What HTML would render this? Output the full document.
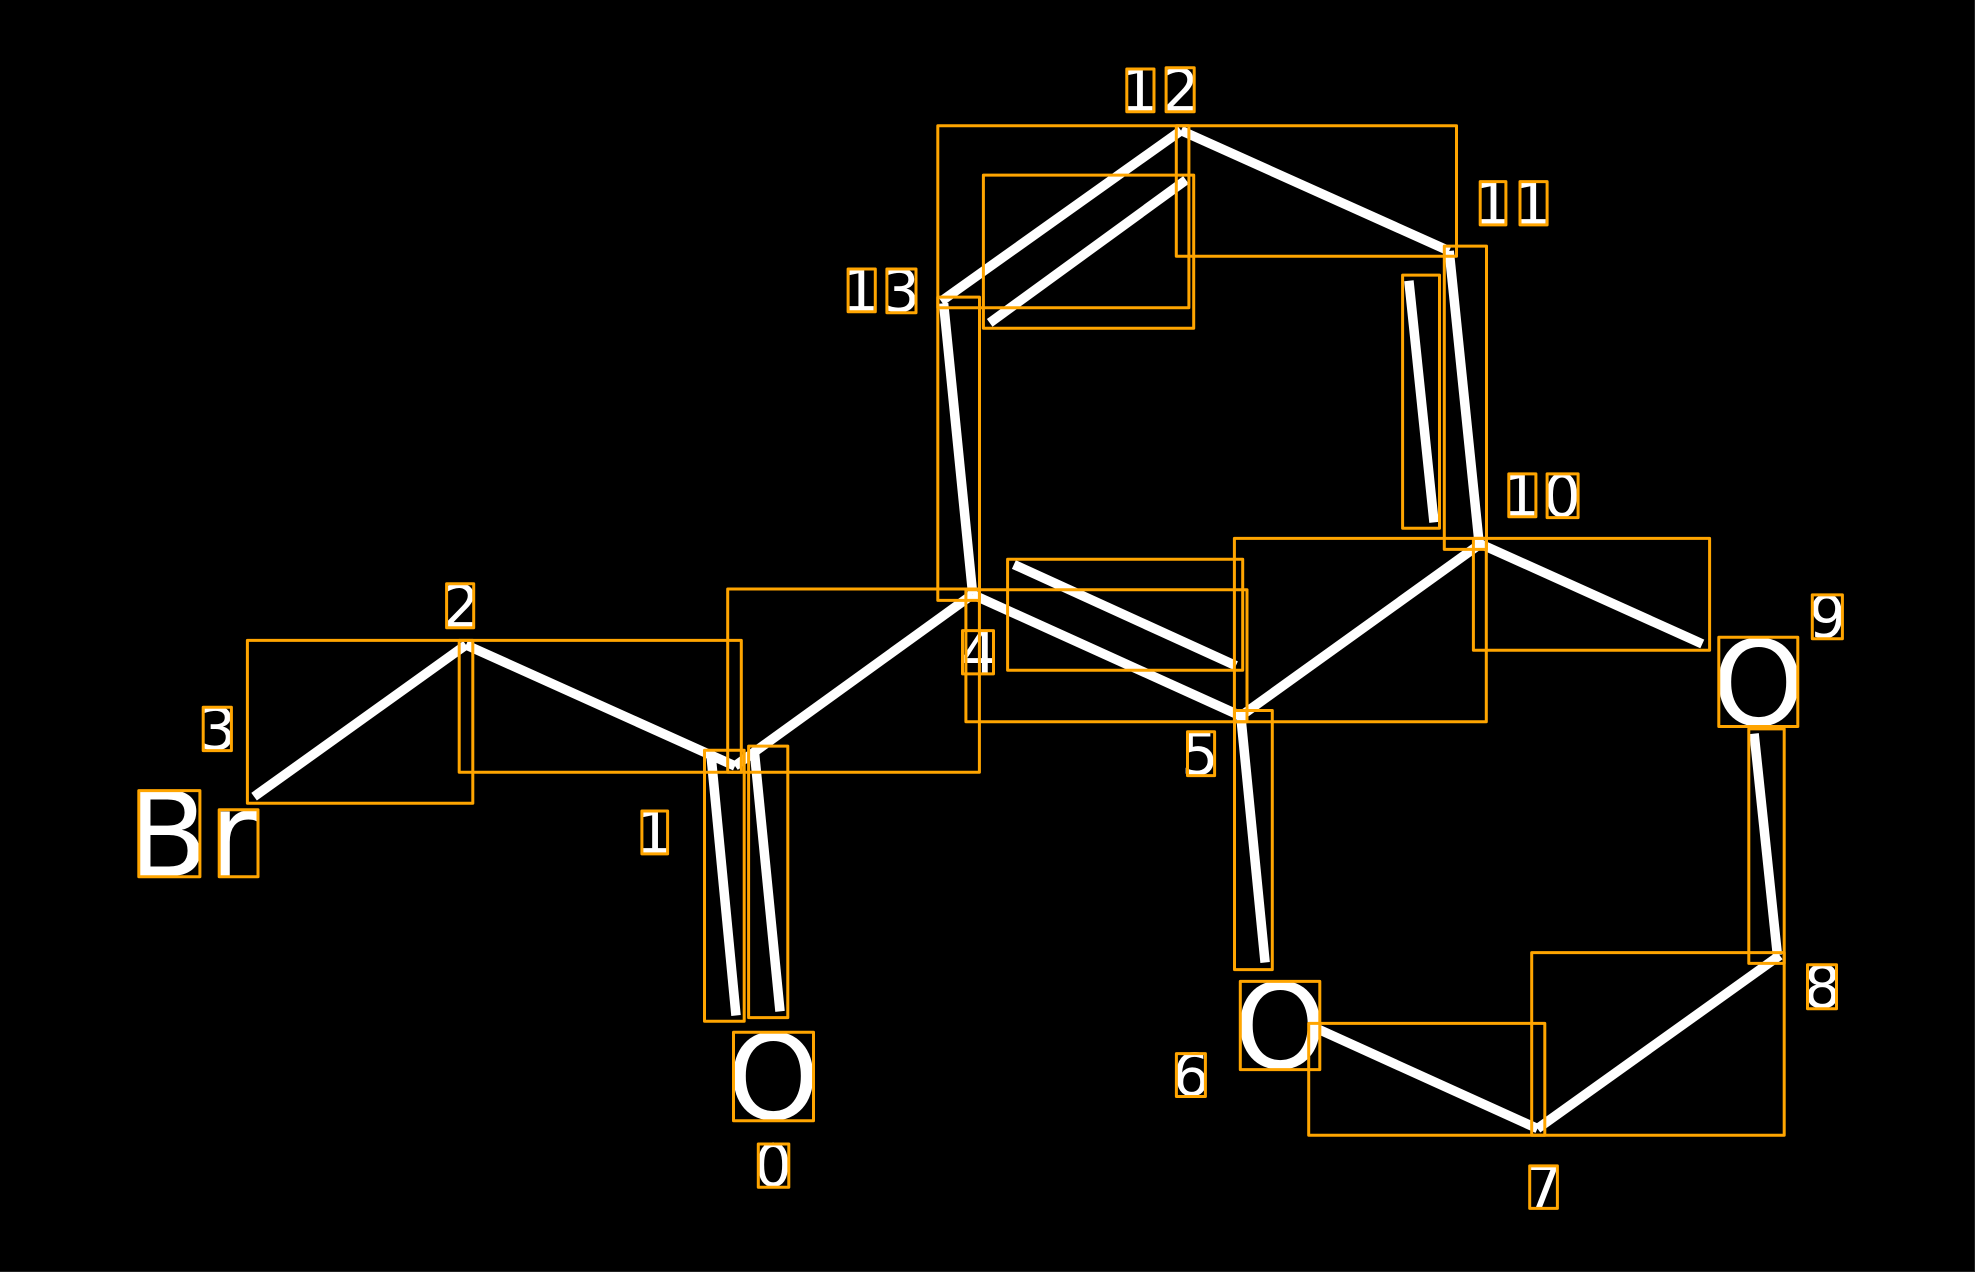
<!DOCTYPE html>
<html><head><meta charset="utf-8"><title>Molecule diagram</title>
<style>
html,body{margin:0;padding:0;background:#000;width:1975px;height:1272px;overflow:hidden}
svg{display:block}
text{font-family:"DejaVu Sans",sans-serif;fill:#fff}
.a{font-size:118px}.d{font-size:59px}
.b line{stroke:#fff;stroke-width:9.5;stroke-linecap:butt}
.r rect{fill:none;stroke:#FFA500;stroke-width:3;stroke-linejoin:round}
</style></head><body>
<svg width="1975" height="1272" viewBox="0 0 1975 1272" xmlns="http://www.w3.org/2000/svg">
<rect width="1975" height="1272" fill="#000"/>
<g class="b">
<line x1="254.1" y1="796.7" x2="466" y2="644.9"/>
<line x1="466" y1="644.9" x2="735" y2="766"/>
<line x1="711" y1="755" x2="736" y2="1015.5"/>
<line x1="754.4" y1="751.8" x2="780" y2="1011.4"/>
<line x1="735" y1="766" x2="972.5" y2="594.5"/>
<line x1="972.7" y1="594.3" x2="943.6" y2="303.3"/>
<line x1="941.2" y1="301.2" x2="1181.1" y2="130.6"/>
<line x1="1186" y1="180" x2="989.7" y2="322.9"/>
<line x1="1181.1" y1="130.6" x2="1449.2" y2="251"/>
<line x1="1449.2" y1="251" x2="1479.2" y2="544.1"/>
<line x1="1408.9" y1="280.8" x2="1434" y2="522.4"/>
<line x1="972.5" y1="594.5" x2="1240.8" y2="716"/>
<line x1="1013.9" y1="564.5" x2="1235.9" y2="665.7"/>
<line x1="1240.8" y1="716" x2="1480.3" y2="543.9"/>
<line x1="1480.3" y1="543.9" x2="1702.3" y2="643.9"/>
<line x1="1240.8" y1="716" x2="1265.1" y2="962.5"/>
<line x1="1316.9" y1="1028.6" x2="1537.5" y2="1128.6"/>
<line x1="1537.5" y1="1128.6" x2="1779.8" y2="955.4"/>
<line x1="1777.4" y1="955" x2="1754.1" y2="733.6"/>
</g>
<g>
<text class="a" x="127.2" y="876">B</text>
<text class="a" x="208.4" y="876">r</text>
<text class="a" x="726.9" y="1119">O</text>
<text class="a" x="1233.7" y="1068">O</text>
<text class="a" x="1712.2" y="725">O</text>
<text class="d" x="754.4" y="1186">0</text>
<text class="d" x="635.4" y="853">1</text>
<text class="d" x="442.3" y="627">2</text>
<text class="d" x="198.7" y="749.5">3</text>
<text class="d" x="959.6" y="673">4</text>
<text class="d" x="1181.1" y="774.5">5</text>
<text class="d" x="1172.3" y="1095.5">6</text>
<text class="d" x="1524.9" y="1208">7</text>
<text class="d" x="1803.5" y="1007.5">8</text>
<text class="d" x="1808.6" y="637.5">9</text>
<text class="d" x="1502.3" y="516">1</text>
<text class="d" x="1543.2" y="516.5">0</text>
<text class="d" x="1473.7" y="224">1</text>
<text class="d" x="1513.5" y="224">1</text>
<text class="d" x="1120.3" y="111">1</text>
<text class="d" x="1161.8" y="111">2</text>
<text class="d" x="841.6" y="311">1</text>
<text class="d" x="882.4" y="311.5">3</text>
</g>
<g class="r">
<rect x="247.4" y="640.4" width="225.4" height="162.9"/>
<rect x="459.2" y="640.4" width="282.1" height="131.8"/>
<rect x="727.7" y="589" width="251.7" height="183.2"/>
<rect x="704.5" y="750.2" width="39.7" height="271"/>
<rect x="748.6" y="746.1" width="39.2" height="271.5"/>
<rect x="733.5" y="1032.2" width="80" height="88.6"/>
<rect x="758.3" y="1144" width="30.5" height="43.3"/>
<rect x="641.9" y="811" width="25.7" height="42.9"/>
<rect x="203.2" y="707.3" width="28.2" height="43.3"/>
<rect x="446.6" y="583.7" width="27.1" height="44.1"/>
<rect x="138.8" y="790.6" width="61.1" height="86.1"/>
<rect x="219.2" y="809.8" width="38.8" height="66.9"/>
<rect x="937.8" y="125.7" width="251.1" height="182.1"/>
<rect x="1176.3" y="125.7" width="280.2" height="130.6"/>
<rect x="983.4" y="175.1" width="210.3" height="153.1"/>
<rect x="937.8" y="297.1" width="41.7" height="303.3"/>
<rect x="1444.3" y="246.1" width="42.2" height="303.3"/>
<rect x="1402.6" y="275.1" width="36.9" height="253.1"/>
<rect x="1007.6" y="559.2" width="235.1" height="111"/>
<rect x="965.9" y="589.8" width="281.1" height="131.9"/>
<rect x="1234.4" y="538.4" width="251.9" height="183.3"/>
<rect x="1473.4" y="538.4" width="236.2" height="111.8"/>
<rect x="1126.8" y="69" width="27.2" height="42.8"/>
<rect x="1166.1" y="67.8" width="28.1" height="44"/>
<rect x="1480.2" y="181.6" width="25.7" height="43.3"/>
<rect x="1520" y="181.6" width="27.1" height="43.3"/>
<rect x="848.1" y="269" width="27.2" height="42.8"/>
<rect x="886.9" y="269" width="29.1" height="43.7"/>
<rect x="1508.8" y="473.9" width="27.1" height="42.8"/>
<rect x="1547.1" y="473.9" width="31" height="43.7"/>
<rect x="962.5" y="630.6" width="31" height="43.3"/>
<rect x="1240.3" y="981.4" width="79.5" height="88.2"/>
<rect x="1234.5" y="710.5" width="37.8" height="259.1"/>
<rect x="1187.5" y="731.7" width="27.1" height="43.9"/>
<rect x="1176.4" y="1053.6" width="29" height="42.9"/>
<rect x="1529.7" y="1165.9" width="27.7" height="42.5"/>
<rect x="1807.5" y="964.8" width="29" height="43.9"/>
<rect x="1812.3" y="594.9" width="30.1" height="43.8"/>
<rect x="1718.8" y="637.3" width="79" height="89.2"/>
<rect x="1748.8" y="728.9" width="35.4" height="234.5"/>
<rect x="1531.7" y="952.6" width="252.5" height="182.6"/>
<rect x="1308.7" y="1023.4" width="236.1" height="111.8"/>
</g>
<rect x="0" y="1271" width="1975" height="1" fill="#222"/>
<rect x="1974" y="0" width="1" height="1272" fill="#222"/>
</svg>
</body></html>
